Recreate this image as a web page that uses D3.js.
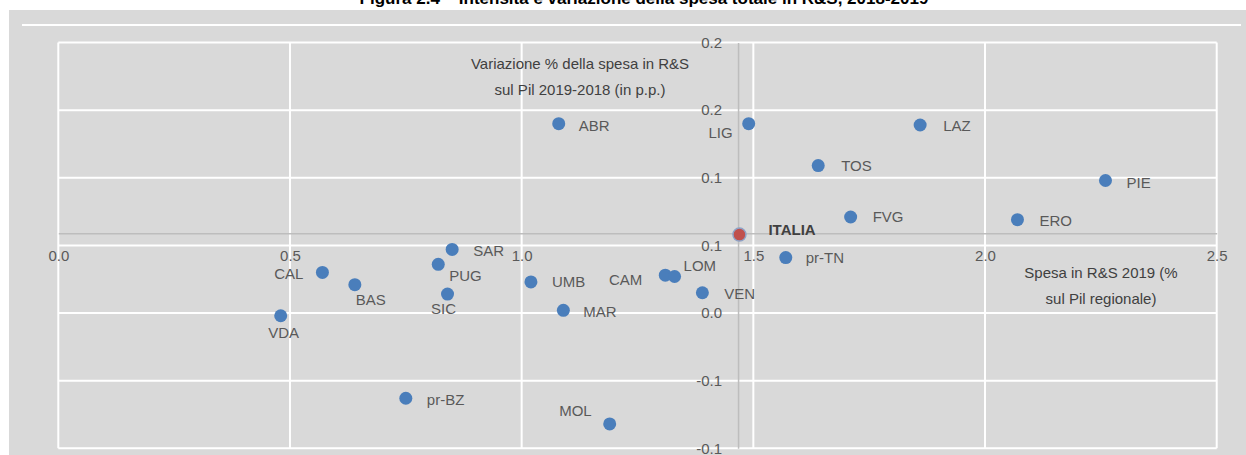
<!DOCTYPE html>
<html>
<head>
<meta charset="utf-8">
<script src="https://cdn.jsdelivr.net/npm/d3@7"></script>
<style>
  body { margin: 0; background: #fff; }
  svg { display: block; font-family: "Liberation Sans", Arial, sans-serif; }
</style>
</head>
<body>
<div id="chart"></div>
<script>
// regioni e valori
const regions = ["ABR", "LIG", "LAZ", "TOS", "PIE", "FVG", "ERO", "ITALIA", "SAR", "pr-TN", "CAL",
  "PUG", "BAS", "UMB", "CAM", "LOM", "SIC", "VEN", "VDA", "MAR", "pr-BZ", "MOL"];
const spesa2019 = [1.08, 1.49, 1.86, 1.64, 2.26, 1.71, 2.07, 1.47, 0.85, 1.57, 0.57,
  0.82, 0.64, 1.02, 1.31, 1.33, 0.84, 1.39, 0.48, 1.09, 0.75, 1.19];
const variazione = [0.140, 0.140, 0.139, 0.109, 0.098, 0.071, 0.069, 0.058, 0.047, 0.041, 0.030,
  0.036, 0.021, 0.023, 0.028, 0.027, 0.014, 0.015, -0.002, 0.002, -0.063, -0.082];

const xTicks = [0, 0.5, 1.0, 1.5, 2.0, 2.5];
const xTickLabels = ["0.0", "0.5", "1.0", "1.5", "2.0", "2.5"];
const yTicks = [0.2, 0.15, 0.1, 0.05, 0, -0.05, -0.1];
const yTickLabels = ["0.2", "0.2", "0.1", "0.1", "0.0", "-0.1", "-0.1"];
const crossAt = [1.467, 0.059]; // dove si incrociano gli assi (valori Italia)

// posizione etichette: [anchor, dx, dy]
const labelPos = {
  "ABR": ["start", 20, 2], "LIG": ["end", -16, 9], "LAZ": ["start", 23, 1],
  "TOS": ["start", 23, 0], "PIE": ["start", 21, 2], "FVG": ["start", 22, 0],
  "ERO": ["start", 22, 1], "ITALIA": ["start", 29, -5], "SAR": ["start", 21, 1],
  "pr-TN": ["start", 20, 0], "CAL": ["end", -19, 1], "PUG": ["start", 11, 11],
  "BAS": ["start", 1, 15], "UMB": ["start", 21, 0], "CAM": ["end", -23, 5],
  "LOM": ["start", 9, -11], "SIC": ["middle", -4, 15], "VEN": ["start", 22, 1],
  "VDA": ["middle", 3, 17], "MAR": ["start", 20, 1], "pr-BZ": ["start", 21, 1],
  "MOL": ["end", -18, -13]
};

const W = 1246, H = 455;
const svg = d3.select("#chart").append("svg").attr("width", W).attr("height", H);

// titolo tagliato in alto
svg.append("text")
    .attr("x", 644).attr("y", 4)
    .attr("text-anchor", "middle")
    .style("font-weight", "bold").style("font-size", "17px").style("fill", "#000")
    .text("Figura 2.4 – Intensità e variazione della spesa totale in R&S, 2018-2019");

svg.append("rect").attr("x", 9).attr("y", 10).attr("width", W - 9).attr("height", H - 10)
    .attr("fill", "#d9d9d9");
svg.append("line").attr("x1", 22).attr("x2", 1241).attr("y1", 25).attr("y2", 25)
    .attr("stroke", "#fff").attr("stroke-width", 2);

const x = d3.scaleLinear().domain([0, 2.5]).range([58.3, 1216.7]);
const y = d3.scaleLinear().domain([-0.1, 0.2]).range([448.3, 42.5]);

// griglia
svg.append("g").selectAll("line").data(xTicks).enter().append("line")
    .attr("x1", d => x(d)).attr("x2", d => x(d))
    .attr("y1", y(0.2)).attr("y2", y(-0.1))
    .attr("stroke", "#fff").attr("stroke-width", 2);
svg.append("g").selectAll("line").data(yTicks).enter().append("line")
    .attr("x1", x(0)).attr("x2", x(2.5))
    .attr("y1", d => y(d)).attr("y2", d => y(d))
    .attr("stroke", "#fff").attr("stroke-width", 2);

// assi che si incrociano sul dato Italia
const xAxis = d3.axisBottom(x).tickValues(xTicks)
    .tickFormat((d, i) => xTickLabels[i]).tickSize(0).tickPadding(17);
const yAxis = d3.axisLeft(y).tickValues(yTicks)
    .tickFormat((d, i) => yTickLabels[i]).tickSize(0).tickPadding(16);

const gx = svg.append("g").attr("transform", `translate(0,${y(crossAt[1])})`).call(xAxis);
const gy = svg.append("g").attr("transform", `translate(${x(crossAt[0])},0)`).call(yAxis);
[gx, gy].forEach(g => {
  g.select(".domain").attr("stroke", "#bdbdbd").attr("stroke-width", 1.5);
  g.selectAll("text").style("font-size", "15px").style("fill", "#595959")
      .style("font-family", "'Liberation Sans', Arial, sans-serif");
});

// titoli assi
const axTitle = (cx, cy, lines) => {
  const t = svg.append("text").attr("text-anchor", "middle")
      .style("font-size", "15px").style("fill", "#404040");
  lines.forEach((l, i) => t.append("tspan").attr("x", cx).attr("y", cy + i * 26.5).attr("dy", "0.35em").text(l));
};
axTitle(580, 63.5, ["Variazione % della spesa in R&S", "sul Pil 2019-2018 (in p.p.)"]);
axTitle(1101, 272.5, ["Spesa in R&S 2019 (%", "sul Pil regionale)"]);

// punti
const data = regions.map((r, i) => ({ name: r, x: spesa2019[i], y: variazione[i] }));

svg.append("g").selectAll("circle").data(data).enter().append("circle")
    .attr("cx", d => x(d.x)).attr("cy", d => y(d.y)).attr("r", 6.5)
    .attr("fill", d => d.name === "ITALIA" ? "#c0504d" : "#4a7ebb")
    .attr("stroke", d => d.name === "ITALIA" ? "#8ea2c6" : "none")
    .attr("stroke-width", 1.5);

svg.append("g").selectAll("text").data(data).enter().append("text")
    .attr("x", d => x(d.x) + labelPos[d.name][1])
    .attr("y", d => y(d.y) + labelPos[d.name][2])
    .attr("dy", "0.35em")
    .attr("text-anchor", d => labelPos[d.name][0])
    .style("font-size", "15px")
    .style("font-weight", d => d.name === "ITALIA" ? "bold" : "normal")
    .style("fill", d => d.name === "ITALIA" ? "#404040" : "#595959")
    .text(d => d.name);
</script>
</body>
</html>
